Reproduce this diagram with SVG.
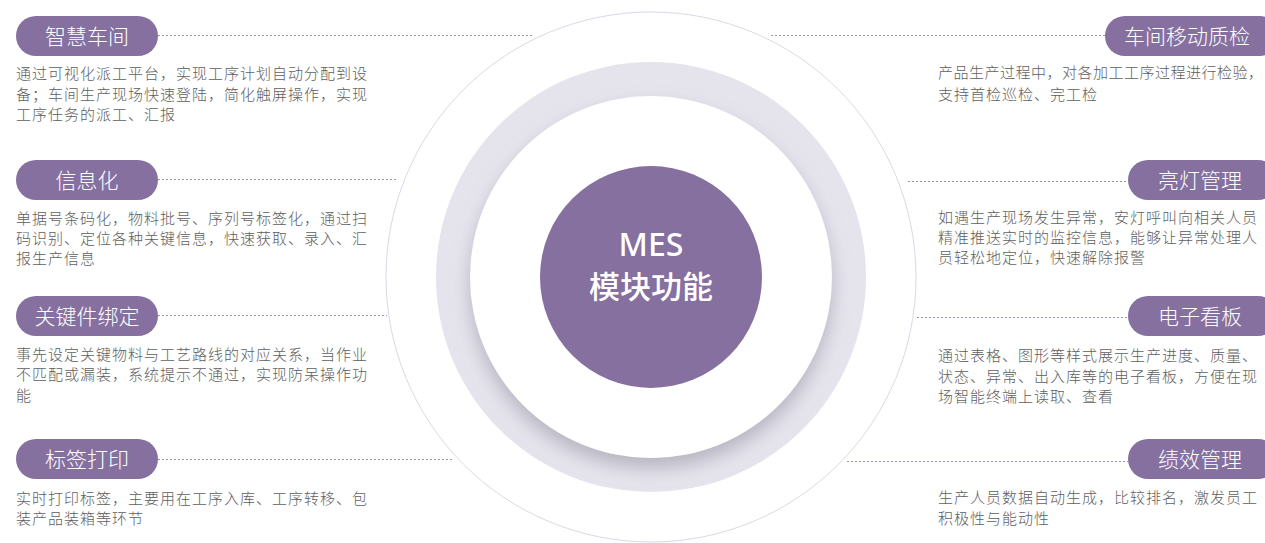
<svg xmlns="http://www.w3.org/2000/svg" width="1265" height="543" viewBox="0 0 1265 543">
<style>
.pill{fill:#85709f}
.pt{font-family:"Noto Sans CJK SC","Noto Sans",sans-serif;font-size:21px;fill:#ffffff;text-anchor:middle;font-weight:300}
.desc{font-family:"Noto Sans CJK SC","Noto Sans",sans-serif;font-size:15px;fill:#5e5e5e;letter-spacing:1px;font-weight:300}
.conn{stroke:#a091b8;stroke-width:1;stroke-dasharray:2 2;fill:none}
.ctr{font-family:"Noto Sans","Noto Sans CJK SC",sans-serif;fill:#ffffff;text-anchor:middle;font-weight:500}
</style>
<defs>
<filter id="sh" x="-30%" y="-30%" width="160%" height="160%">
<feDropShadow dx="0" dy="10" stdDeviation="9" flood-color="#9a96a5" flood-opacity="0.6"/>
</filter>
</defs>
<rect width="1265" height="543" fill="#ffffff"/>
<g id="center">
<circle cx="651" cy="277" r="265" fill="#ffffff" stroke="#dcd8e7" stroke-width="1"/>
<circle cx="651" cy="277" r="215" fill="#e5e3ec"/>
<circle cx="651" cy="277" r="181" fill="#ffffff" filter="url(#sh)"/>
<circle cx="651" cy="277" r="111" fill="#85709f"/>
<text class="ctr" x="651" y="256" font-size="32">MES</text>
<text class="ctr" x="651" y="298" font-size="31" style="font-family:'Noto Sans CJK SC',sans-serif">模块功能</text>
</g>
<g id="connectors">
<line class="conn" x1="158" y1="35.5" x2="532" y2="35.5"/>
<line class="conn" x1="158" y1="179.5" x2="397" y2="179.5"/>
<line class="conn" x1="158" y1="315.5" x2="387" y2="315.5"/>
<line class="conn" x1="158" y1="459.5" x2="452" y2="459.5"/>
<line class="conn" x1="771" y1="35.5" x2="1105" y2="35.5"/>
<line class="conn" x1="908" y1="181.5" x2="1128" y2="181.5"/>
<line class="conn" x1="917" y1="317.5" x2="1128" y2="317.5"/>
<line class="conn" x1="847" y1="461.5" x2="1128" y2="461.5"/>
</g>
<g id="n-zhihuichejian">
<rect class="pill" x="16" y="16" width="142" height="40" rx="20"/>
<text class="pt" x="87" y="44">智慧车间</text>
<text class="desc" x="16" y="79">通过可视化派工平台，实现工序计划自动分配到设</text>
<text class="desc" x="16" y="99.5">备；车间生产现场快速登陆，简化触屏操作，实现</text>
<text class="desc" x="16" y="120">工序任务的派工、汇报</text>
</g>
<g id="n-xinxihua">
<rect class="pill" x="16" y="160" width="142" height="40" rx="20"/>
<text class="pt" x="87" y="188">信息化</text>
<text class="desc" x="16" y="223.5">单据号条码化，物料批号、序列号标签化，通过扫</text>
<text class="desc" x="16" y="243.5">码识别、定位各种关键信息，快速获取、录入、汇</text>
<text class="desc" x="16" y="263.5">报生产信息</text>
</g>
<g id="n-guanjianjian">
<rect class="pill" x="16" y="296" width="142" height="40" rx="20"/>
<text class="pt" x="87" y="324">关键件绑定</text>
<text class="desc" x="16" y="359.5">事先设定关键物料与工艺路线的对应关系，当作业</text>
<text class="desc" x="16" y="380">不匹配或漏装，系统提示不通过，实现防呆操作功</text>
<text class="desc" x="16" y="401">能</text>
</g>
<g id="n-biaoqian">
<rect class="pill" x="16" y="439" width="142" height="40" rx="20"/>
<text class="pt" x="87" y="467">标签打印</text>
<text class="desc" x="16" y="504">实时打印标签，主要用在工序入库、工序转移、包</text>
<text class="desc" x="16" y="524">装产品装箱等环节</text>
</g>
<g id="n-zhijian">
<rect class="pill" x="1105" y="16" width="175" height="40" rx="20"/>
<text class="pt" x="1187" y="44">车间移动质检</text>
<text class="desc" x="938" y="77.5" style="letter-spacing:0.5px">产品生产过程中，对各加工工序过程进行检验，</text>
<text class="desc" x="938" y="100">支持首检巡检、完工检</text>
</g>
<g id="n-liangdeng">
<rect class="pill" x="1128" y="160" width="150" height="40" rx="20"/>
<text class="pt" x="1200" y="188">亮灯管理</text>
<text class="desc" x="938" y="223">如遇生产现场发生异常，安灯呼叫向相关人员</text>
<text class="desc" x="938" y="243">精准推送实时的监控信息，能够让异常处理人</text>
<text class="desc" x="938" y="263">员轻松地定位，快速解除报警</text>
</g>
<g id="n-kanban">
<rect class="pill" x="1128" y="296" width="150" height="40" rx="20"/>
<text class="pt" x="1200" y="324">电子看板</text>
<text class="desc" x="938" y="361">通过表格、图形等样式展示生产进度、质量、</text>
<text class="desc" x="938" y="382">状态、异常、出入库等的电子看板，方便在现</text>
<text class="desc" x="938" y="402">场智能终端上读取、查看</text>
</g>
<g id="n-jixiao">
<rect class="pill" x="1128" y="439" width="150" height="40" rx="20"/>
<text class="pt" x="1200" y="467">绩效管理</text>
<text class="desc" x="938" y="502.5">生产人员数据自动生成，比较排名，激发员工</text>
<text class="desc" x="938" y="524">积极性与能动性</text>
</g>
</svg>
